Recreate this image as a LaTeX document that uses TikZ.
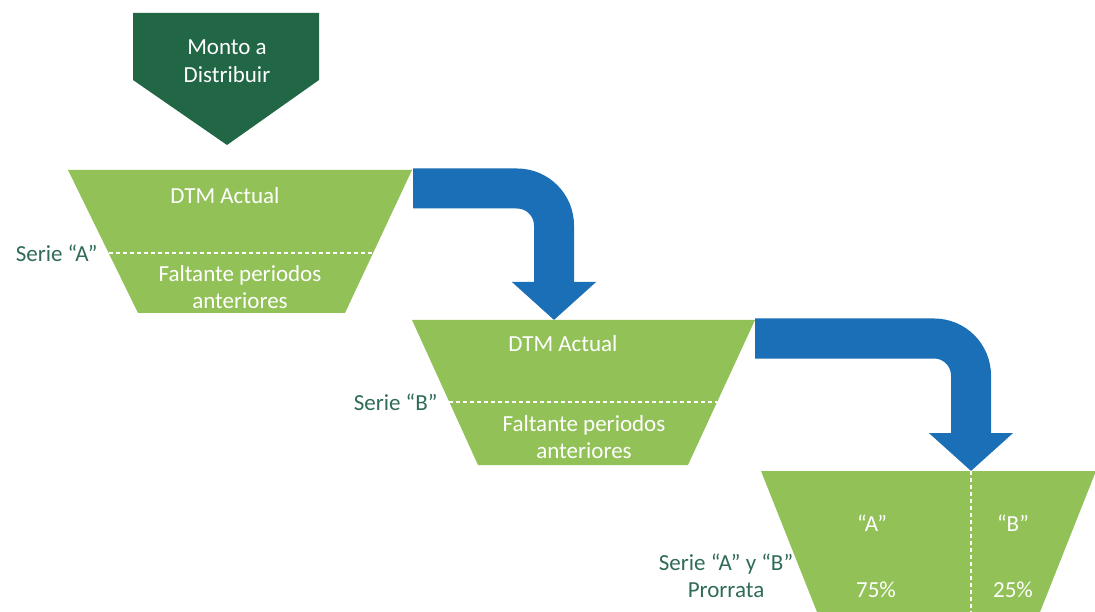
\documentclass[tikz,border=0pt]{standalone}
\usepackage{fontspec}
\setmainfont{Carlito}
\usetikzlibrary{arrows.meta,positioning}
\definecolor{darkgreen}{HTML}{216645}
\definecolor{lightgreen}{HTML}{92C157}
\definecolor{flowblue}{HTML}{1B6FB6}
\definecolor{labelgreen}{HTML}{2F6B58}

\begin{document}
\begin{tikzpicture}[x=1pt,y=-1pt,
  box/.style={text=white, font=\fontsize{23}{27.5}\selectfont, align=center},
  lbl/.style={text=labelgreen, font=\fontsize{23}{27.5}\selectfont, align=center},
  cut/.style={white, line width=1.6pt, dash pattern=on 4pt off 3pt},
  flow/.style={flowblue, line width=40pt, rounded corners=37pt, -{Triangle[length=38pt,width=82pt]}}]

  \useasboundingbox (0,0) rectangle (1095,612);
  \clip (0,0) rectangle (1095,612);

  % shapes
  \fill[darkgreen] (133,13) -- (319,13) -- (319,80) -- (227,145) -- (133,80) -- cycle;
  \fill[lightgreen] (68,170) -- (412,170) -- (345,313) -- (138,313) -- cycle;
  \fill[lightgreen] (412,320) -- (755,320) -- (688,465) -- (478,465) -- cycle;
  \fill[lightgreen] (761,471) -- (1096,471) -- (1040,612) -- (817,612) -- cycle;

  % connector ends
  \coordinate (outA) at (413,188.5);
  \coordinate (inB)  at (554,320);
  \coordinate (outB) at (755,338.5);
  \coordinate (inAB) at (971,471);

  % cut lines
  \coordinate (cutA) at (109,253);
  \coordinate (cutB) at (449,402);
  \draw[cut] (cutA) -- (373,253);
  \draw[cut] (cutB) -- (717,402);
  \draw[cut] (inAB) -- (971,612);

  % texts
  \node[box] (monto)  at (227,61)  {Monto a\\Distribuir};
  \node[box] (dtmA)   at (225,196) {DTM Actual};
  \node[box] (faltA)  at (240,287) {Faltante periodos\\anteriores};
  \node[box] (dtmB)   at (563,344) {DTM Actual};
  \node[box] (faltB)  at (584,437) {Faltante periodos\\anteriores};
  \node[box] (serA)   at (872,523) {“A”};
  \node[box] (serB)   at (1013,523) {“B”};
  \node[box] (pctA)   at (876,590) {75\%};
  \node[box] (pctB)   at (1013,590) {25\%};

  \node[lbl, left=8pt of cutA] (labA) {Serie “A”};
  \node[lbl, left=8pt of cutB] (labB) {Serie “B”};
  \node[lbl] (labAB) at (726,576) {Serie “A” y “B”\\Prorrata};

  % arrows
  \draw[flow] (outA) -| (inB);
  \draw[flow] (outB) -| (inAB);
\end{tikzpicture}
\end{document}
